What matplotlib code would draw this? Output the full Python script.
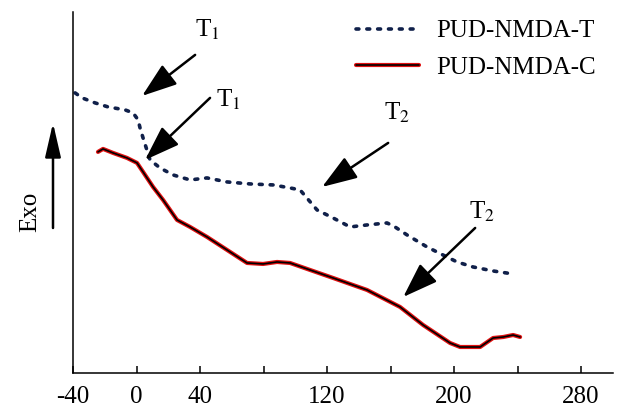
import matplotlib
matplotlib.use("Agg")
import matplotlib.pyplot as plt

# PUD-NMDA-T (dotted)
t_x = [-38.7, -34.3, -26.1, -18.0, -7.2, -2.2, 1.0, 2.2, 4.1, 8.5, 14.8, 23.0, 33.7,
       44.4, 57.0, 71.5, 86.0, 96.7, 103.0, 113.7, 123.8, 134.5, 145.2, 157.8, 162.8,
       170.4, 183.0, 193.0, 201.9, 212.0, 224.6, 237.2]
t_y = [280, 275, 270, 266, 263, 260, 253, 245, 235, 213, 205, 198, 193,
       195, 191, 189, 188, 185, 183, 163, 155, 146, 148, 150, 146,
       138, 126, 118, 111, 106, 102, 99]

# PUD-NMDA-C (solid)
c_x = [-24.3, -21.1, -14.8, -6.0, 0.3, 4.1, 10.4, 16.7, 25.5, 33.7, 44.4, 57.0, 69.6,
       79.7, 88.5, 96.7, 109.3, 123.8, 145.2, 166.0, 180.5, 197.5, 203.8, 216.4,
       224.6, 231.0, 237.2, 241.6]
c_y = [221, 224, 220, 215, 210, 201, 186, 173, 153, 146, 136, 123, 110,
       109, 111, 110, 103, 95, 83, 66, 48, 30, 26, 26,
       35, 36, 38, 36]

xticks = [-40, 0, 40, 80, 120, 160, 200, 240, 280]
xtick_labels = ["-40", "0", "40", "", "120", "", "200", "", "280"]

# transition arrows: (label, tail x, tail y, head x, head y, text x, text y)
arrows = [
    ("1", 36.9, 318, 3.5, 277, 44.4, 343),
    ("1", 46.3, 275, 5.4, 213, 57.6, 273),
    ("2", 158.5, 230, 116.9, 186, 164.1, 260),
    ("2", 213.3, 145, 168.0, 76, 217.6, 161),
]

plt.rcParams["font.family"] = ["Liberation Serif", "DejaVu Serif"]
plt.rcParams["mathtext.fontset"] = "stix"

fig = plt.figure(figsize=(6.19, 4.09), dpi=100)
ax = fig.add_axes([0.118, 0.088, 0.872, 0.883])

ln_t, = ax.plot(t_x, t_y, color="#10204a", lw=2.6, linestyle=(0, (0.8, 2.2)),
                dash_capstyle="round", label="PUD-NMDA-T")
ln_c1, = ax.plot(c_x, c_y, color="#e01010", lw=3.0, solid_capstyle="round")
ln_c2, = ax.plot(c_x, c_y, color="black", lw=1.2, solid_capstyle="round")

for sub, x0, y0, x1, y1, tx, ty in arrows:
    ax.annotate("", xy=(x1, y1), xytext=(x0, y0),
                arrowprops=dict(arrowstyle="-|>,head_length=1.2,head_width=0.42",
                                color="black", lw=1.8, mutation_scale=18,
                                shrinkA=0, shrinkB=0))
    ax.text(tx, ty, "T$_{%s}$" % sub, fontsize=18, ha="center", va="center")

ax.set_xlim(-40, 300)
ax.set_ylim(0, 361)
ax.set_xticks(xticks)
ax.set_xticklabels(xtick_labels)
ax.set_yticks([])
ax.tick_params(axis="x", direction="in", length=5, width=1.1, labelsize=18, pad=9)
for s in ["top", "right"]:
    ax.spines[s].set_visible(False)
for s in ["left", "bottom"]:
    ax.spines[s].set_linewidth(1.1)

ax.legend([ln_t, (ln_c1, ln_c2)], ["PUD-NMDA-T", "PUD-NMDA-C"],
          loc="upper right", bbox_to_anchor=(1.01, 1.04), frameon=False,
          fontsize=18, handlelength=2.5, handletextpad=0.7, labelspacing=0.55)

# Exo label with upward arrow
fig.text(30 / 619, 1 - 212 / 409, "Exo", rotation=90, fontsize=18,
         ha="center", va="center")
fig.add_artist(matplotlib.patches.FancyArrowPatch(
    (53 / 619, 1 - 228 / 409), (53 / 619, 1 - 123 / 409),
    transform=fig.transFigure, arrowstyle="-|>,head_length=1.3,head_width=0.3",
    mutation_scale=16, color="black", lw=1.8, shrinkA=0, shrinkB=0))

fig.savefig("out.png", dpi=100)
